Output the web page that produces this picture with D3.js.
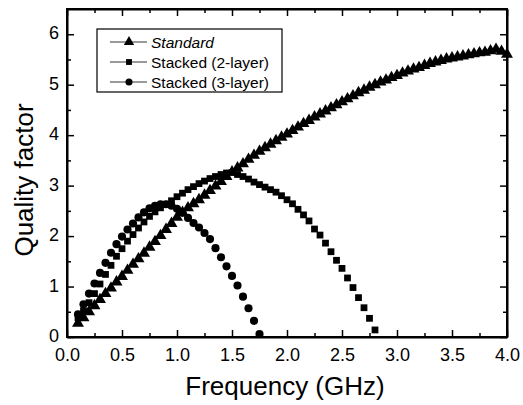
<!DOCTYPE html>
<html>
<head>
<meta charset="utf-8">
<script src="https://cdn.jsdelivr.net/npm/d3@7"></script>
<style>
  html, body { margin: 0; padding: 0; background: #fff; }
  svg { display: block; font-family: "Liberation Sans", Arial, Helvetica, sans-serif; }
</style>
</head>
<body>
<svg id="chart" width="523" height="405"></svg>
<script>
// Quality factor vs. frequency for three inductor structures

const freqStandard = [
  0.10, 0.15, 0.20, 0.25, 0.30, 0.35, 0.40, 0.45, 0.50, 0.55,
  0.60, 0.65, 0.70, 0.75, 0.80, 0.85, 0.90, 0.95, 1.00, 1.05,
  1.10, 1.15, 1.20, 1.25, 1.30, 1.35, 1.40, 1.45, 1.50, 1.55,
  1.60, 1.65, 1.70, 1.75, 1.80, 1.85, 1.90, 1.95, 2.00, 2.05,
  2.10, 2.15, 2.20, 2.25, 2.30, 2.35, 2.40, 2.45, 2.50, 2.55,
  2.60, 2.65, 2.70, 2.75, 2.80, 2.85, 2.90, 2.95, 3.00, 3.05,
  3.10, 3.15, 3.20, 3.25, 3.30, 3.35, 3.40, 3.45, 3.50, 3.55,
  3.60, 3.65, 3.70, 3.75, 3.80, 3.85, 3.90, 3.95, 4.00
];
const qStandard = [
  0.27, 0.38, 0.50, 0.62, 0.74, 0.86, 0.97, 1.09, 1.20, 1.32,
  1.44, 1.55, 1.66, 1.78, 1.89, 2.01, 2.13, 2.25, 2.37, 2.47,
  2.56, 2.64, 2.72, 2.81, 2.90, 2.99, 3.08, 3.18, 3.27, 3.35,
  3.43, 3.52, 3.60, 3.68, 3.75, 3.82, 3.89, 3.96, 4.02, 4.09,
  4.16, 4.23, 4.29, 4.36, 4.42, 4.48, 4.54, 4.60, 4.66, 4.72,
  4.78, 4.84, 4.89, 4.95, 5.00, 5.05, 5.09, 5.14, 5.18, 5.23,
  5.27, 5.31, 5.34, 5.38, 5.42, 5.45, 5.48, 5.51, 5.53, 5.55,
  5.57, 5.59, 5.61, 5.63, 5.64, 5.67, 5.70, 5.66, 5.60
];

const freqTwoLayer = [
  0.10, 0.15, 0.20, 0.25, 0.30, 0.35, 0.40, 0.45, 0.50, 0.55,
  0.60, 0.65, 0.70, 0.75, 0.80, 0.85, 0.90, 0.95, 1.00, 1.05,
  1.10, 1.15, 1.20, 1.25, 1.30, 1.35, 1.40, 1.45, 1.50, 1.55,
  1.60, 1.65, 1.70, 1.75, 1.80, 1.85, 1.90, 1.95, 2.00, 2.05,
  2.10, 2.15, 2.20, 2.25, 2.30, 2.35, 2.40, 2.45, 2.50, 2.55,
  2.60, 2.65, 2.70, 2.75, 2.80
];
const qTwoLayer = [
  0.38, 0.52, 0.68, 0.86, 1.05, 1.24, 1.42, 1.60, 1.75, 1.90,
  2.03, 2.16, 2.28, 2.39, 2.48, 2.56, 2.63, 2.70, 2.78, 2.85,
  2.92, 2.98, 3.04, 3.09, 3.14, 3.18, 3.22, 3.25, 3.26, 3.22,
  3.18, 3.13, 3.07, 3.02, 2.97, 2.92, 2.87, 2.80, 2.72, 2.64,
  2.53, 2.42, 2.30, 2.14, 2.02, 1.86, 1.69, 1.52, 1.36, 1.17,
  0.98, 0.78, 0.58, 0.37, 0.14
];

const freqThreeLayer = [
  0.10, 0.15, 0.20, 0.25, 0.30, 0.35, 0.40, 0.45, 0.50, 0.55,
  0.60, 0.65, 0.70, 0.75, 0.80, 0.85, 0.90, 0.95, 1.00, 1.05,
  1.10, 1.15, 1.20, 1.25, 1.30, 1.35, 1.40, 1.45, 1.50, 1.55,
  1.60, 1.65, 1.70, 1.75
];
const qThreeLayer = [
  0.45, 0.65, 0.86, 1.06, 1.27, 1.47, 1.67, 1.84, 1.99, 2.13,
  2.25, 2.37, 2.47, 2.55, 2.60, 2.63, 2.63, 2.60, 2.54, 2.46,
  2.36, 2.26, 2.17, 2.06, 1.94, 1.76, 1.58, 1.40, 1.21, 1.02,
  0.80, 0.57, 0.32, 0.06
];

const seriesNames = ["Standard", "Stacked (2-layer)", "Stacked (3-layer)"];
const xTickValues = [0.0, 0.5, 1.0, 1.5, 2.0, 2.5, 3.0, 3.5, 4.0];
const yTickValues = [0, 1, 2, 3, 4, 5, 6];
const xTitle = "Frequency (GHz)";
const yTitle = "Quality factor";

const series = [
  { name: seriesNames[0], x: freqStandard, y: qStandard, symbol: d3.symbolTriangle, size: 62, italic: true },
  { name: seriesNames[1], x: freqTwoLayer, y: qTwoLayer, symbol: d3.symbolSquare, size: 46, italic: false },
  { name: seriesNames[2], x: freqThreeLayer, y: qThreeLayer, symbol: d3.symbolCircle, size: 52, italic: false }
];

const svg = d3.select("#chart");
const plot = { left: 67, right: 507, top: 9, bottom: 337 };

const x = d3.scaleLinear().domain([0, 4.0]).range([plot.left, plot.right]);
const y = d3.scaleLinear().domain([0, 6.5]).range([plot.bottom, plot.top]);

// Minor tick positions
const xMinor = [0.25, 0.75, 1.25, 1.75, 2.25, 2.75, 3.25, 3.75];
const yMinor = [0.5, 1.5, 2.5, 3.5, 4.5, 5.5];

const axes = svg.append("g");

// Bottom axis with labels, inward ticks
const axBottom = axes.append("g").attr("transform", `translate(0,${plot.bottom})`)
  .call(d3.axisBottom(x).tickValues(xTickValues).tickFormat(d3.format(".1f")).tickSizeInner(-7).tickSizeOuter(0).tickPadding(11));
axBottom.append("g").call(d3.axisBottom(x).tickValues(xMinor).tickFormat("").tickSizeInner(-4).tickSizeOuter(0))
  .select(".domain").remove();

// Left axis with labels
const axLeft = axes.append("g").attr("transform", `translate(${plot.left},0)`)
  .call(d3.axisLeft(y).tickValues(yTickValues).tickFormat(d3.format("d")).tickSizeInner(-7).tickSizeOuter(0).tickPadding(8));
axLeft.append("g").call(d3.axisLeft(y).tickValues(yMinor).tickFormat("").tickSizeInner(-4).tickSizeOuter(0))
  .select(".domain").remove();

// Mirrored top and right axes (ticks only)
const axTop = axes.append("g").attr("transform", `translate(0,${plot.top})`)
  .call(d3.axisTop(x).tickValues(xTickValues).tickFormat("").tickSizeInner(-7).tickSizeOuter(0));
axTop.append("g").call(d3.axisTop(x).tickValues(xMinor).tickFormat("").tickSizeInner(-4).tickSizeOuter(0))
  .select(".domain").remove();
const axRight = axes.append("g").attr("transform", `translate(${plot.right},0)`)
  .call(d3.axisRight(y).tickValues(yTickValues).tickFormat("").tickSizeInner(-7).tickSizeOuter(0));
axRight.append("g").call(d3.axisRight(y).tickValues(yMinor).tickFormat("").tickSizeInner(-4).tickSizeOuter(0))
  .select(".domain").remove();

axes.selectAll(".domain").attr("stroke", "#000").attr("stroke-width", 2);
axes.selectAll(".tick line").attr("stroke", "#000").attr("stroke-width", 1.5);
axes.selectAll(".tick text").attr("fill", "#000").attr("font-size", 18)
  .attr("font-family", "'Liberation Sans', Arial, sans-serif");
// y labels sit a touch above their ticks, keeping "0" clear of "0.0"
axLeft.selectAll(".tick text").attr("dy", "0.25em");

// Frame
axes.append("rect")
  .attr("x", plot.left).attr("y", plot.top)
  .attr("width", plot.right - plot.left).attr("height", plot.bottom - plot.top)
  .attr("fill", "none").attr("stroke", "#000").attr("stroke-width", 2);

// Data markers
const marks = svg.append("g");
series.forEach(s => {
  const pts = s.x.map((f, i) => [f, s.y[i]]);
  marks.append("g").selectAll("path")
    .data(pts)
    .join("path")
    .attr("transform", d => `translate(${x(d[0])},${y(d[1])})`)
    .attr("d", d3.symbol().type(s.symbol).size(s.size))
    .attr("fill", "#000");
});

// Axis titles
svg.append("text")
  .attr("x", 285).attr("y", 395)
  .attr("text-anchor", "middle").attr("font-size", 26).attr("fill", "#000")
  .text(xTitle);
svg.append("text")
  .attr("transform", "translate(33,180) rotate(-90)")
  .attr("text-anchor", "middle").attr("font-size", 26).attr("fill", "#000")
  .text(yTitle);

// Legend
const legend = svg.append("g").attr("transform", "translate(97,29)");
legend.append("rect").attr("width", 185).attr("height", 63)
  .attr("fill", "#fff").attr("stroke", "#000").attr("stroke-width", 1.2);
series.forEach((s, i) => {
  const row = legend.append("g").attr("transform", `translate(0,${13 + i * 20})`);
  row.append("line").attr("x1", 13).attr("x2", 50).attr("y1", 0).attr("y2", 0)
    .attr("stroke", "#000").attr("stroke-width", 0.8);
  row.append("path").attr("transform", "translate(32,0)")
    .attr("d", d3.symbol().type(s.symbol).size(s.size * 0.75)).attr("fill", "#000");
  row.append("text").attr("x", 54).attr("y", 5.5)
    .attr("font-size", 15.5).attr("fill", "#000")
    .attr("font-style", s.italic ? "italic" : "normal")
    .text(s.name);
});
</script>
</body>
</html>
